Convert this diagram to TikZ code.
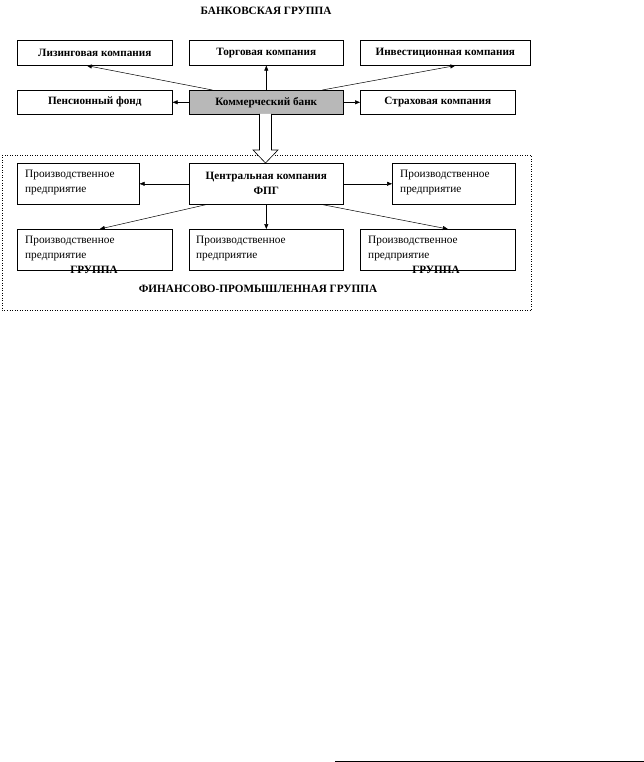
\documentclass[tikz,border=0pt]{standalone}
\usepackage{fontspec}
\setmainfont{Liberation Serif}
\usetikzlibrary{arrows.meta}
\begin{document}
\begin{tikzpicture}[x=1pt,y=-1pt,
  box/.style={draw,line width=0.6pt,anchor=north west,inner sep=0pt},
  bbox/.style={box,font=\bfseries\fontsize{11.2}{15}\selectfont,align=center},
  pbox/.style={box,minimum width=#1,minimum height=41pt},
  ptext/.style={anchor=north west,font=\fontsize{11.3}{15}\selectfont,align=left,inner sep=0pt},
  arr/.style={-{Triangle[length=5pt,width=4pt]},line width=0.5pt},
  lbl/.style={font=\bfseries\fontsize{11.2}{12}\selectfont}]
\useasboundingbox (0,0) rectangle (644,762);
% title
\node[lbl] (title) at (266,11) {БАНКОВСКАЯ ГРУППА};
% row 1
\node[bbox,minimum width=155pt,minimum height=25pt] (lease) at (17,40) {Лизинговая компания};
\node[bbox,minimum width=154pt,minimum height=25pt] (trade) at (189,40) {Торговая компания};
\node[bbox,minimum width=170pt,minimum height=25pt] (invest) at (360,40) {Инвестиционная компания};
% row 2
\node[bbox,minimum width=155pt,minimum height=24pt] (pension) at (17,90) {Пенсионный фонд};
\node[bbox,fill=black!28,minimum width=154pt,minimum height=24pt] (bank) at (189,90) {Коммерческий банк};
\node[bbox,minimum width=155pt,minimum height=24pt] (insur) at (360,90) {Страховая компания};
% dotted frame
\draw[dotted,line width=0.5pt] (2,155) rectangle (531,310);
% hollow arrow
\coordinate (hatip) at (265.5,163);
\draw[line width=0.6pt,fill=white] (259.5,114) -- (259.5,150) -- (253,150) -- (hatip) -- (278,150) -- (271.5,150) -- (271.5,114);
% row 3
\node[pbox=122pt] (p1) at (17,163) {};
\node[ptext] (t1) at (25,170) {Производственное\\предприятие};
\node[bbox,minimum width=154pt,minimum height=41pt] (central) at (189,163) {Центральная компания\\ФПГ};
\node[pbox=123pt] (p2) at (392,163) {};
\node[ptext] (t2) at (400,170) {Производственное\\предприятие};
% row 4
\node[pbox=155pt] (p3) at (17,229) {};
\node[ptext] (t3) at (25,236) {Производственное\\предприятие};
\node[pbox=154pt] (p4) at (189,229) {};
\node[ptext] (t4) at (196,236) {Производственное\\предприятие};
\node[pbox=155pt] (p5) at (360,229) {};
\node[ptext] (t5) at (368,236) {Производственное\\предприятие};
% group labels
\node[lbl] (g1) at (94,270) {ГРУППА};
\node[lbl] (g2) at (436,270) {ГРУППА};
\node[lbl] (fpg) at (258,289) {ФИНАНСОВО-ПРОМЫШЛЕННАЯ ГРУППА};
% arrows from bank
\draw[arr] ([xshift=-54pt]bank.north) -- ([xshift=-8pt]lease.south);
\draw[arr] (bank.north) -- (trade.south);
\draw[arr] ([xshift=56pt]bank.north) -- ([xshift=10pt]invest.south);
\draw[arr] (bank.west) -- (pension.east);
\draw[arr] (bank.east) -- (insur.west);
% arrows from central
\draw[arr] (central.west) -- (p1.east);
\draw[arr] (central.east) -- (p2.west);
\draw[arr] ([xshift=-60pt]central.south) -- ([xshift=5pt]p3.north);
\draw[arr] (central.south) -- (p4.north);
\draw[arr] ([xshift=56pt]central.south) -- ([xshift=10pt]p5.north);
% footnote line
\coordinate (fl1) at (335,761);
\coordinate (fl2) at (644,761);
\draw[line width=0.8pt] (fl1) -- (fl2);
\end{tikzpicture}
\end{document}
